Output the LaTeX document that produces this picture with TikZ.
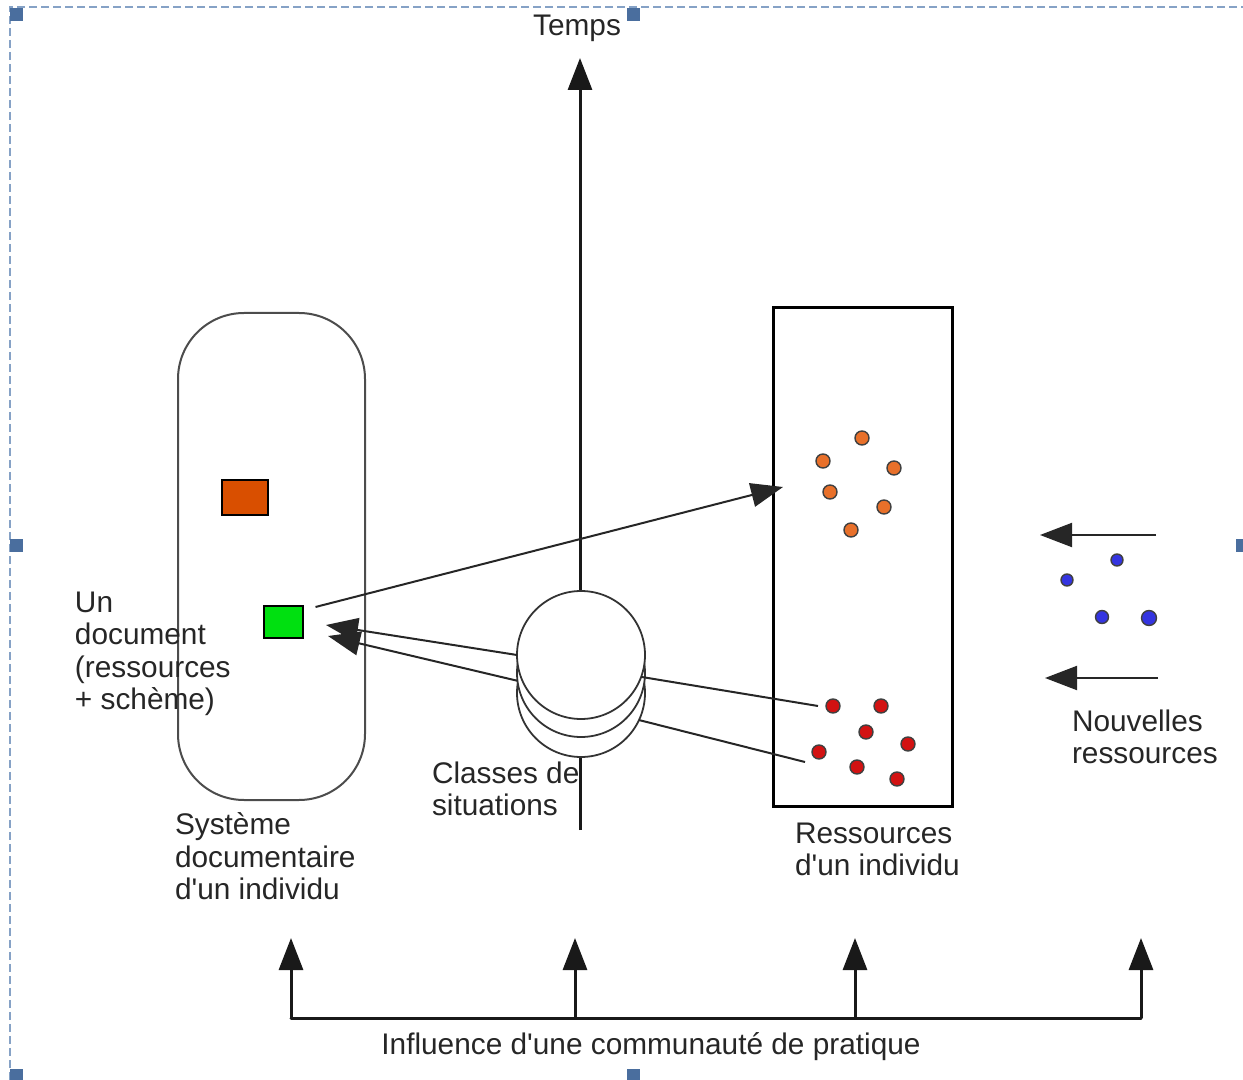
\documentclass[tikz,border=0pt]{standalone}
\usepackage{fontspec}
\setmainfont{Liberation Sans}[Ligatures=TeXOff]
\usetikzlibrary{arrows.meta}
\definecolor{framecol}{HTML}{86A2C6}
\definecolor{handlecol}{HTML}{4A6E9E}
\definecolor{docorange}{HTML}{D94F00}
\definecolor{docgreen}{HTML}{00E010}
\definecolor{dotorange}{HTML}{E8702A}
\definecolor{dotred}{HTML}{D21212}
\definecolor{dotblue}{HTML}{3434E0}
\begin{document}
\begin{tikzpicture}[x=0.5pt,y=-0.5pt,
  every node/.style={inner sep=0pt, outer sep=0pt},
  lbl/.style={font=\fontsize{14.9pt}{16.2pt}\selectfont, text=black!85,
    align=left, anchor=north west},
  frameline/.style={draw=framecol, line width=1pt, dash pattern=on 4pt off 2pt},
  handle/.style={rectangle, fill=handlecol, minimum size=6.5pt},
  conn/.style={draw=black!85, line width=1pt},
  thick conn/.style={draw=black!90, line width=1.5pt},
  tip/.style={-{Triangle[length=16pt,width=12pt]}},
  disk/.style={circle, draw=black!80, line width=0.9pt, fill=white, minimum size=64pt},
  dot/.style={circle, draw=black!75, line width=0.7pt, minimum size=7pt},
  docsq/.style={rectangle, draw=black, line width=1pt}
]
\useasboundingbox (0,0) rectangle (1243,1080);
\clip (0,0) rectangle (1243,1080);

% selection frame with its handles
\draw[frameline] (1249,7) -- (10,7) -- (10,1081);
\foreach \n/\p in {tl/{(16.5,14.5)}, tc/{(633,14.5)}, ml/{(16.5,546)},
                   bl/{(16.5,1075)}, bc/{(633,1075)}, mr/{(1242,546)}}
  \node[handle] (h\n) at \p {};

% time axis
\coordinate (axisbot) at (580,830);
\coordinate (axistop) at (580,58);
\draw[thick conn, tip] (axisbot) -- (axistop);
\node[lbl, anchor=center] (temps) at (577,28) {Temps};

% classes of situations: stacked disks
\node[disk] (disk3) at (581,693) {};
\node[disk] (disk2) at (581,673) {};
\node[disk] (disk1) at (581,655) {};
\node[lbl] (classes) at (432,762) {Classes de\\situations};

% documentary system of an individual
\node[draw=black!70, line width=1pt, rounded corners=33pt,
      minimum width=93.5pt, minimum height=243.5pt] (sysdoc) at (271.5,556.5) {};
\node[docsq, fill=docorange, minimum width=23pt, minimum height=17.5pt] (orangedoc) at (245,497.5) {};
\node[docsq, fill=docgreen, minimum width=19.5pt, minimum height=16pt] (greendoc) at (283,622) {};
\node[lbl] (doclbl) at (75,592) {Un\\document\\(ressources\\+ schème)};
\node[lbl] (syslbl) at (175,813) {Système\\documentaire\\d'un individu};

% resources of an individual
\node[draw=black, line width=1.5pt, minimum width=89.5pt, minimum height=249pt] (ressbox) at (862.5,557) {};
\node[lbl] (resslbl) at (795,823) {Ressources\\d'un individu};
\foreach \n/\p in {1/{(862,438)}, 2/{(823,461)}, 3/{(894,468)},
                   4/{(830,492)}, 5/{(884,507)}, 6/{(851,530)}}
  \node[dot, fill=dotorange] (o\n) at \p {};
\foreach \n/\p in {1/{(833,706)}, 2/{(881,706)}, 3/{(866,732)}, 4/{(908,744)},
                   5/{(819,752)}, 6/{(857,767)}, 7/{(897,779)}}
  \node[dot, fill=dotred] (r\n) at \p {};

% new resources
\node[dot, fill=dotblue, minimum size=6pt] (b1) at (1117,560) {};
\node[dot, fill=dotblue, minimum size=6pt] (b2) at (1067,580) {};
\node[dot, fill=dotblue, minimum size=6.5pt] (b3) at (1102,617) {};
\node[dot, fill=dotblue, minimum size=7.5pt] (b4) at (1149,618) {};
\node[lbl] (newlbl) at (1072,710) {Nouvelles\\ressources};
\coordinate (in1s) at (1156,535);
\coordinate (in1e) at (1040,535);
\coordinate (in2s) at (1158,678);
\coordinate (in2e) at (1045,678);
\draw[conn, tip] (in1s) -- (in1e);
\draw[conn, tip] (in2s) -- (in2e);

% connectors between document, situations and resources
\coordinate (toress) at (783,487);
\draw[conn, tip] (greendoc.east) ++(13,-15) coordinate (gout) (gout) -- (toress);
\coordinate (gin1) at (326,625);
\coordinate (gin2) at (328,636);
\draw[conn, tip] (disk1.west) -- (gin1);
\draw[conn, tip] (disk2.187) -- (gin2);
\coordinate (rend1) at (818,706);
\coordinate (rend2) at (805,762);
\draw[conn] (disk1.-20) -- (rend1);
\draw[conn] (disk3.-25) -- (rend2);

% influence of a community of practice
\coordinate (c1) at (291,1018);
\coordinate (c2) at (575,1018);
\coordinate (c3) at (855,1018);
\coordinate (c4) at (1141,1018);
\draw[thick conn, line cap=round] (c1) -- (c4);
\foreach \c in {c1,c2,c3,c4}
  \draw[thick conn, tip] (\c) -- ++(0,-80);
\node[lbl, anchor=center] (inflbl) at (651,1047) {Influence d'une communauté de pratique};
\end{tikzpicture}
\end{document}
